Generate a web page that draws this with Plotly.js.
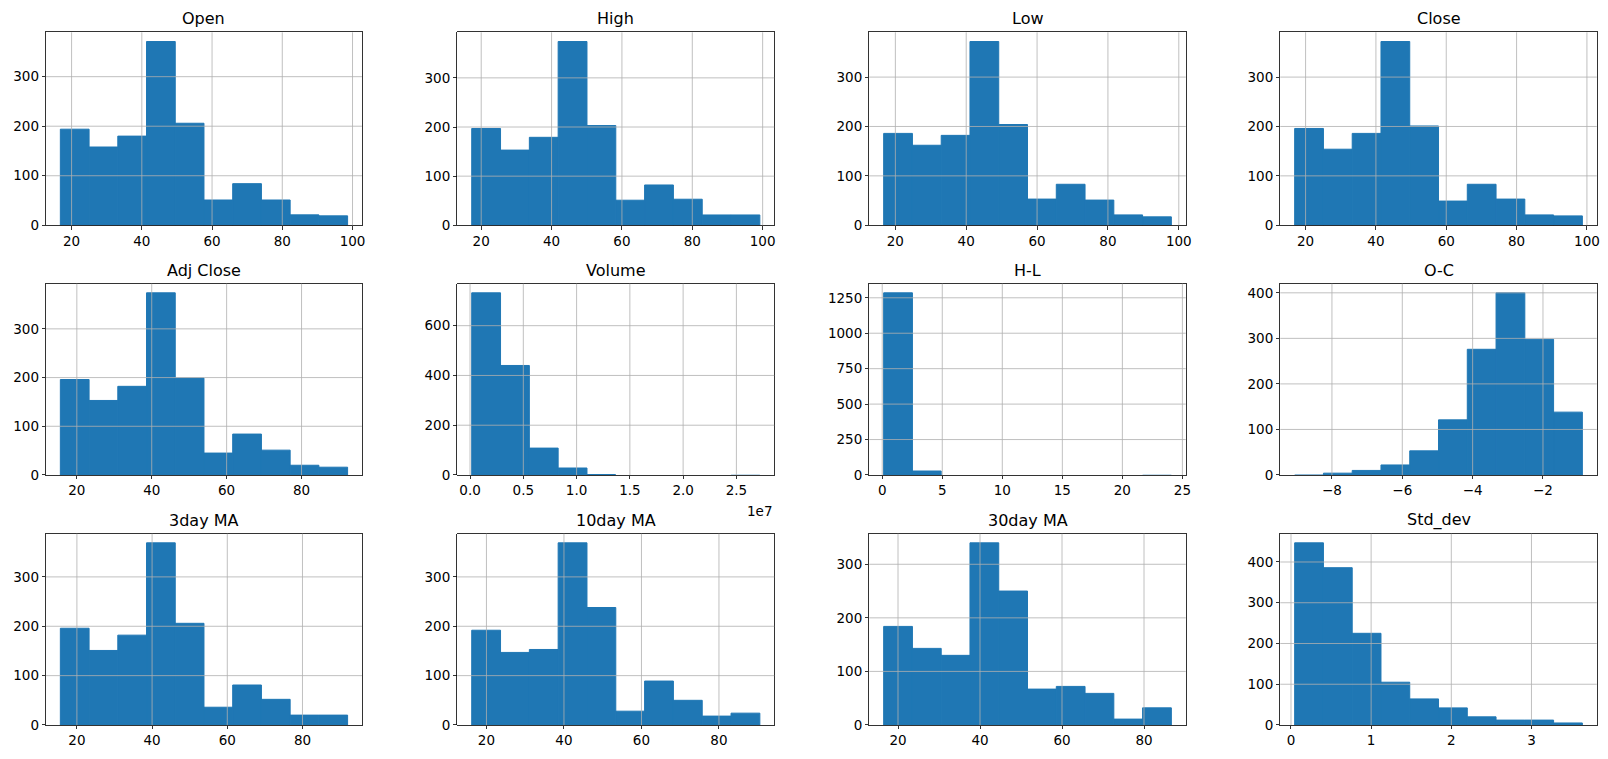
<!DOCTYPE html>
<html>
<head>
<meta charset="utf-8">
<script src="https://cdn.plot.ly/plotly-3.0.1.min.js"></script>
<style>html,body{margin:0;padding:0;background:#fff;}#chart{width:1608px;height:759px;}</style>
</head>
<body>
<div id="chart"></div>
<script>
// ---- Data (10-bin histograms: [min, max] of values, and counts) ----
const titles = ["Open", "High", "Low", "Close", "Adj Close", "Volume", "H-L", "O-C", "3day MA", "10day MA", "30day MA", "Std_dev"];

const open_range = [16.8, 98.6];
const open_counts = [194, 158, 180, 371, 206, 51, 84, 51, 21, 19];

const high_range = [17.3, 99.2];
const high_counts = [197, 153, 179, 374, 203, 51, 82, 53, 21, 21];

const low_range = [16.7, 97.9];
const low_counts = [186, 162, 182, 372, 204, 53, 83, 51, 21, 17];

const close_range = [16.9, 98.7];
const close_counts = [196, 154, 186, 372, 201, 49, 83, 53, 21, 19];

const adjclose_range = [15.6, 92.3];
const adjclose_counts = [196, 153, 182, 374, 199, 45, 84, 51, 20, 16];

const volume_range = [157000, 27200000];
const volume_counts = [732, 440, 108, 28, 4, 0, 0, 0, 0, 1];

const hl_range = [0.12, 24.08];
const hl_counts = [1285, 28, 0, 0, 0, 0, 0, 0, 0, 1];

const oc_range = [-9.06, -0.88];
const oc_counts = [1, 4, 10, 22, 53, 121, 276, 400, 298, 138];

const ma3_range = [15.6, 92.0];
const ma3_counts = [196, 151, 182, 369, 206, 36, 81, 52, 20, 20];

const ma10_range = [16.2, 90.55];
const ma10_counts = [192, 147, 153, 369, 238, 28, 89, 50, 18, 24];

const ma30_range = [16.5, 86.67];
const ma30_counts = [184, 143, 130, 340, 250, 67, 72, 59, 11, 32];

const std_range = [0.046, 3.635];
const std_counts = [447, 386, 225, 105, 64, 42, 20, 12, 12, 5];

// tick values / labels
const xticks_price = [20, 40, 60, 80, 100];
const xticks_ma = [20, 40, 60, 80];
const xticks_volume = [0, 5000000, 10000000, 15000000, 20000000, 25000000];
const xticklabels_volume = ["0.0", "0.5", "1.0", "1.5", "2.0", "2.5"];
const xticks_hl = [0, 5, 10, 15, 20, 25];
const xticks_oc = [-8, -6, -4, -2];
const xticks_std = [0, 1, 2, 3];
const yticks_300 = [0, 100, 200, 300];
const yticks_600 = [0, 200, 400, 600];
const yticks_1250 = [0, 250, 500, 750, 1000, 1250];
const yticks_400 = [0, 100, 200, 300, 400];

// ---- Build panels ----
const panels = [
  {range: open_range, counts: open_counts, xt: xticks_price, yt: yticks_300},
  {range: high_range, counts: high_counts, xt: xticks_price, yt: yticks_300},
  {range: low_range, counts: low_counts, xt: xticks_price, yt: yticks_300},
  {range: close_range, counts: close_counts, xt: xticks_price, yt: yticks_300},
  {range: adjclose_range, counts: adjclose_counts, xt: xticks_ma, yt: yticks_300},
  {range: volume_range, counts: volume_counts, xt: xticks_volume, xtl: xticklabels_volume, yt: yticks_600},
  {range: hl_range, counts: hl_counts, xt: xticks_hl, yt: yticks_1250},
  {range: oc_range, counts: oc_counts, xt: xticks_oc, yt: yticks_400},
  {range: ma3_range, counts: ma3_counts, xt: xticks_ma, yt: yticks_300},
  {range: ma10_range, counts: ma10_counts, xt: xticks_ma, yt: yticks_300},
  {range: ma30_range, counts: ma30_counts, xt: xticks_ma, yt: yticks_300},
  {range: std_range, counts: std_counts, xt: xticks_std, yt: yticks_400}
];

const colDomains = [[0.0286, 0.2251], [0.2844, 0.4815], [0.5406, 0.7374], [0.7962, 0.9930]];
const rowDomains = [[0.7032, 0.9574], [0.3742, 0.6262], [0.0448, 0.2968]];

const FONT = "DejaVu Sans, sans-serif";
const BAR = "#1f77b4";
const traces = [];
const layout = {
  width: 1608, height: 759,
  margin: {l: 0, r: 0, t: 0, b: 0},
  paper_bgcolor: "#ffffff",
  plot_bgcolor: "#ffffff",
  showlegend: false,
  font: {family: FONT, size: 13.5, color: "#000"},
  annotations: [],
  shapes: []
};

panels.forEach((p, i) => {
  const n = i + 1;
  const xa = "x" + (n === 1 ? "" : n);
  const ya = "y" + (n === 1 ? "" : n);
  const nb = p.counts.length;
  const lo = p.range[0], hi = p.range[1];
  const w = (hi - lo) / nb;
  const centers = p.counts.map((_, k) => lo + (k + 0.5) * w);
  const ymax = Math.max(...p.counts);
  traces.push({
    type: "bar",
    x: centers,
    y: p.counts,
    width: centers.map(() => w),
    // thin same-colour outline hides anti-aliasing seams between adjacent bins;
    // skipped for near-zero bins so they stay (almost) invisible as in the original
    marker: {color: BAR, line: {color: BAR, width: p.counts.map(c => c >= 0.01 * ymax ? 1 : 0)}},
    xaxis: xa, yaxis: ya,
    hoverinfo: "x+y"
  });
  const span = hi - lo;
  const xr = [lo - 0.05 * span, hi + 0.05 * span];
  const yr = [0, ymax * 1.05];
  const col = i % 4, row = Math.floor(i / 4);
  const xkey = "xaxis" + (n === 1 ? "" : n);
  const ykey = "yaxis" + (n === 1 ? "" : n);
  layout[xkey] = {
    domain: colDomains[col], anchor: ya, range: xr, autorange: false,
    tickmode: "array", tickvals: p.xt, ticktext: p.xtl,
    ticks: "outside", ticklen: 3.5, tickwidth: 0.8, tickcolor: "#000",
    showline: true, mirror: true, linecolor: "#000", linewidth: 0.8,
    showgrid: false, zeroline: false, automargin: false,
    tickfont: {family: FONT, size: 13.5, color: "#000"}, fixedrange: true
  };
  layout[ykey] = {
    domain: rowDomains[row], anchor: xa, range: yr, autorange: false,
    tickmode: "array", tickvals: p.yt,
    ticks: "outside", ticklen: 3.5, tickwidth: 0.8, tickcolor: "#000",
    showline: true, mirror: true, linecolor: "#000", linewidth: 0.8,
    showgrid: false, zeroline: false, automargin: false,
    tickfont: {family: FONT, size: 13.5, color: "#000"}, fixedrange: true
  };
  // grid lines drawn above bars (like matplotlib's df.hist)
  p.xt.forEach(t => {
    if (t > xr[0] && t < xr[1]) {
      layout.shapes.push({type: "line", layer: "above", xref: xa, yref: ya + " domain",
        x0: t, x1: t, y0: 0, y1: 1, line: {color: "#b0b0b0", width: 0.8}});
    }
  });
  p.yt.forEach(t => {
    if (t > yr[0] && t < yr[1]) {
      layout.shapes.push({type: "line", layer: "above", xref: xa + " domain", yref: ya,
        x0: 0, x1: 1, y0: t, y1: t, line: {color: "#b0b0b0", width: 0.8}});
    }
  });
  // subplot title
  layout.annotations.push({
    text: titles[i], xref: "paper", yref: "paper",
    x: (colDomains[col][0] + colDomains[col][1]) / 2, y: rowDomains[row][1],
    xanchor: "center", yanchor: "bottom", yshift: 2, showarrow: false,
    font: {family: FONT, size: 16, color: "#000"}
  });
  if (titles[i] === "Volume") {
    layout.annotations.push({
      text: "1e7", xref: "paper", yref: "paper",
      x: colDomains[col][1], y: rowDomains[row][0],
      xanchor: "right", yanchor: "top", yshift: -26, showarrow: false,
      font: {family: FONT, size: 13.5, color: "#000"}
    });
  }
});

Plotly.newPlot("chart", traces, layout, {displayModeBar: false, staticPlot: true});
</script>
</body>
</html>
